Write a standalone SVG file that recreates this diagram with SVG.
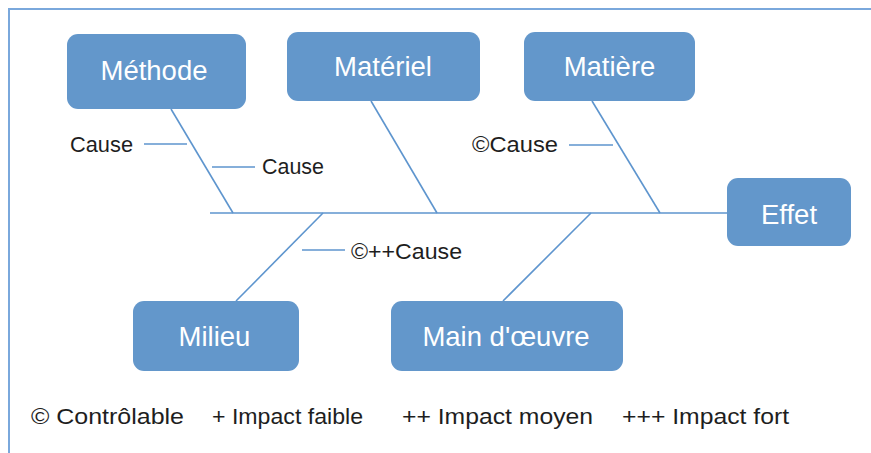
<svg xmlns="http://www.w3.org/2000/svg" width="871" height="453" viewBox="0 0 871 453">
<style>
.box{fill:#6397CB;}
.lbl{font-family:"Liberation Sans",Arial,sans-serif;font-size:27.5px;fill:#ffffff;text-anchor:middle;}
.cause{font-family:"Liberation Sans",Arial,sans-serif;font-size:22px;fill:#1e1e1e;}
.leg{font-family:"Liberation Sans",Arial,sans-serif;font-size:22px;fill:#1e1e1e;}
.ln{stroke:#5E95CE;stroke-width:1.6;fill:none;}
</style>
<rect width="871" height="453" fill="#ffffff"/>
<path d="M9,453 V9 H871" fill="none" stroke="#7AA8DC" stroke-width="2"/>
<g id="connectors">
<line class="ln" x1="210" y1="213" x2="727" y2="213"/>
<line class="ln" x1="171" y1="109" x2="233" y2="213"/>
<line class="ln" x1="371" y1="101" x2="437" y2="213"/>
<line class="ln" x1="592" y1="101" x2="660" y2="213"/>
<line class="ln" x1="323" y1="213" x2="236" y2="301"/>
<line class="ln" x1="591" y1="213" x2="503" y2="301"/>
<line class="ln" x1="144" y1="144" x2="187" y2="144"/>
<line class="ln" x1="212" y1="167" x2="255" y2="167"/>
<line class="ln" x1="569" y1="145" x2="613" y2="145"/>
<line class="ln" x1="302" y1="250" x2="345" y2="250"/>
</g>
<g id="methode"><rect class="box" x="67" y="34" width="179" height="75" rx="11"/><text class="lbl" x="154" y="80">Méthode</text></g>
<g id="materiel"><rect class="box" x="287" y="32" width="193" height="69" rx="11"/><text class="lbl" x="383" y="76">Matériel</text></g>
<g id="matiere"><rect class="box" x="524" y="32" width="171" height="69" rx="11"/><text class="lbl" x="609.5" y="76">Matière</text></g>
<g id="effet"><rect class="box" x="727" y="178" width="124" height="68" rx="11"/><text class="lbl" x="789" y="224">Effet</text></g>
<g id="milieu"><rect class="box" x="133" y="301" width="166" height="70" rx="11"/><text class="lbl" x="214.5" y="346">Milieu</text></g>
<g id="main-oeuvre"><rect class="box" x="391" y="301" width="232" height="70" rx="11"/><text class="lbl" x="506" y="346">Main d'œuvre</text></g>
<g id="causes">
<text class="cause" x="70" y="152" textLength="63" lengthAdjust="spacingAndGlyphs">Cause</text>
<text class="cause" x="262" y="174" textLength="62" lengthAdjust="spacingAndGlyphs">Cause</text>
<text class="cause" x="472" y="152" textLength="86" lengthAdjust="spacingAndGlyphs">©Cause</text>
<text class="cause" x="351" y="259" textLength="111" lengthAdjust="spacingAndGlyphs">©++Cause</text>
</g>
<g id="legend">
<text class="leg" x="31" y="424" textLength="153" lengthAdjust="spacingAndGlyphs">© Contrôlable</text>
<text class="leg" x="212" y="424" textLength="151" lengthAdjust="spacingAndGlyphs">+ Impact faible</text>
<text class="leg" x="402" y="424" textLength="191" lengthAdjust="spacingAndGlyphs">++ Impact moyen</text>
<text class="leg" x="622" y="424" textLength="167" lengthAdjust="spacingAndGlyphs">+++ Impact fort</text>
</g>
</svg>
